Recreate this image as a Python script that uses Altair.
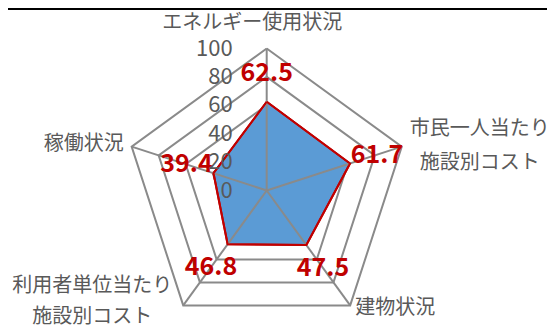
import altair as alt
import pandas as pd

categories = ["エネルギー使用状況", "市民一人当たり\n施設別コスト", "建物状況",
              "利用者単位当たり\n施設別コスト", "稼働状況"]
values = [62.5, 61.7, 47.5, 46.8, 39.4]
ticks = [0, 20, 40, 60, 80, 100]
rings = [20, 40, 60, 80, 100]

N = len(categories)
K = 1.42
W, H = 539, 320
CX, CY = 258.7, 182.5
xs = alt.Scale(domain=[-CX / K, (W - CX) / K], range=[0, W], nice=False, zero=False)
ys = alt.Scale(domain=[-(H - CY) / K, CY / K], range=[H, 0], nice=False, zero=False)
X = alt.X("x:Q", scale=xs, axis=None)
Y = alt.Y("y:Q", scale=ys, axis=None)

GRAY = "#8a8a8a"
TXT = "#595959"
FONT = "Noto Sans CJK JP"

ang = "PI/2 - 2*PI*datum.k/5"

grid_df = pd.DataFrame([{"r": r, "k": k} for r in rings for k in range(N + 1)])
grid = alt.Chart(grid_df).transform_calculate(
    x=f"datum.r*cos({ang})", y=f"datum.r*sin({ang})"
).mark_line(stroke=GRAY, strokeWidth=2).encode(
    x=X, y=Y, detail="r:N", order="k:Q"
)

poly_df = pd.DataFrame({"k": list(range(N + 1)), "v": values + values[:1]})
poly = alt.Chart(poly_df).transform_calculate(
    x=f"datum.v*cos({ang})", y=f"datum.v*sin({ang})"
).mark_line(fill="#5B9BD5", filled=True, stroke="#C00000", strokeWidth=2).encode(
    x=X, y=Y, order="k:Q"
)
outline = alt.Chart(poly_df).transform_calculate(
    x=f"datum.v*cos({ang})", y=f"datum.v*sin({ang})"
).mark_line(stroke="#C00000", strokeWidth=2).encode(x=X, y=Y, order="k:Q")

spoke_df = pd.DataFrame({"k": list(range(N))})
spokes = alt.Chart(spoke_df).transform_calculate(
    x0="0", y0="0", x=f"100*cos({ang})", y=f"100*sin({ang})"
).mark_rule(stroke=GRAY, strokeWidth=2).encode(
    x=alt.X("x0:Q", scale=xs, axis=None), y=alt.Y("y0:Q", scale=ys, axis=None),
    x2="x:Q", y2="y:Q"
)

lab_df = pd.DataFrame({"k": list(range(N)), "v": values})
labels = alt.Chart(lab_df).transform_calculate(
    r="datum.v + 20", x=f"datum.r*cos({ang})", y=f"datum.r*sin({ang})",
    t="format(datum.v, '.1f')"
).mark_text(font=FONT, fontSize=25, fontWeight="bold", color="#C00000",
            align="center", baseline="middle").encode(x=X, y=Y, text="t:N")

tick_df = pd.DataFrame({"v": ticks})
tick_labels = alt.Chart(tick_df).transform_calculate(x="0", y="datum.v").mark_text(
    font=FONT, fontSize=22, color=TXT, align="right", baseline="middle", dx=-34
).encode(x=X, y=Y, text="v:N")

cat_style = [(-14.5, -26, 34), (78, -18, 34), (45, 3, 34), (-91, -19, 31), (-48, -3, 34)]
cat_layers = []
for k, (cat, (dx, dy, lh)) in enumerate(zip(categories, cat_style)):
    d = pd.DataFrame({"k": [k], "c": [cat]})
    cat_layers.append(
        alt.Chart(d).transform_calculate(
            x=f"100*cos({ang})", y=f"100*sin({ang})"
        ).mark_text(font=FONT, fontSize=20, color=TXT, align="center",
                    baseline="middle", dx=dx, dy=dy, lineBreak="\n", lineHeight=lh
        ).encode(x=X, y=Y, text="c:N")
    )

topline = alt.Chart(pd.DataFrame({"a": [0]})).mark_rule(color="black", strokeWidth=3).encode(
    x=alt.value(0), x2=alt.value(W), y=alt.value(0.5)
)

chart = alt.layer(grid, poly, spokes, outline, labels, tick_labels, *cat_layers, topline).properties(
    width=W, height=H, padding=0, autosize=alt.AutoSizeParams(type="none")
).configure_view(stroke=None)

chart.save("out.html", embed_options={"renderer": "svg", "actions": False})
